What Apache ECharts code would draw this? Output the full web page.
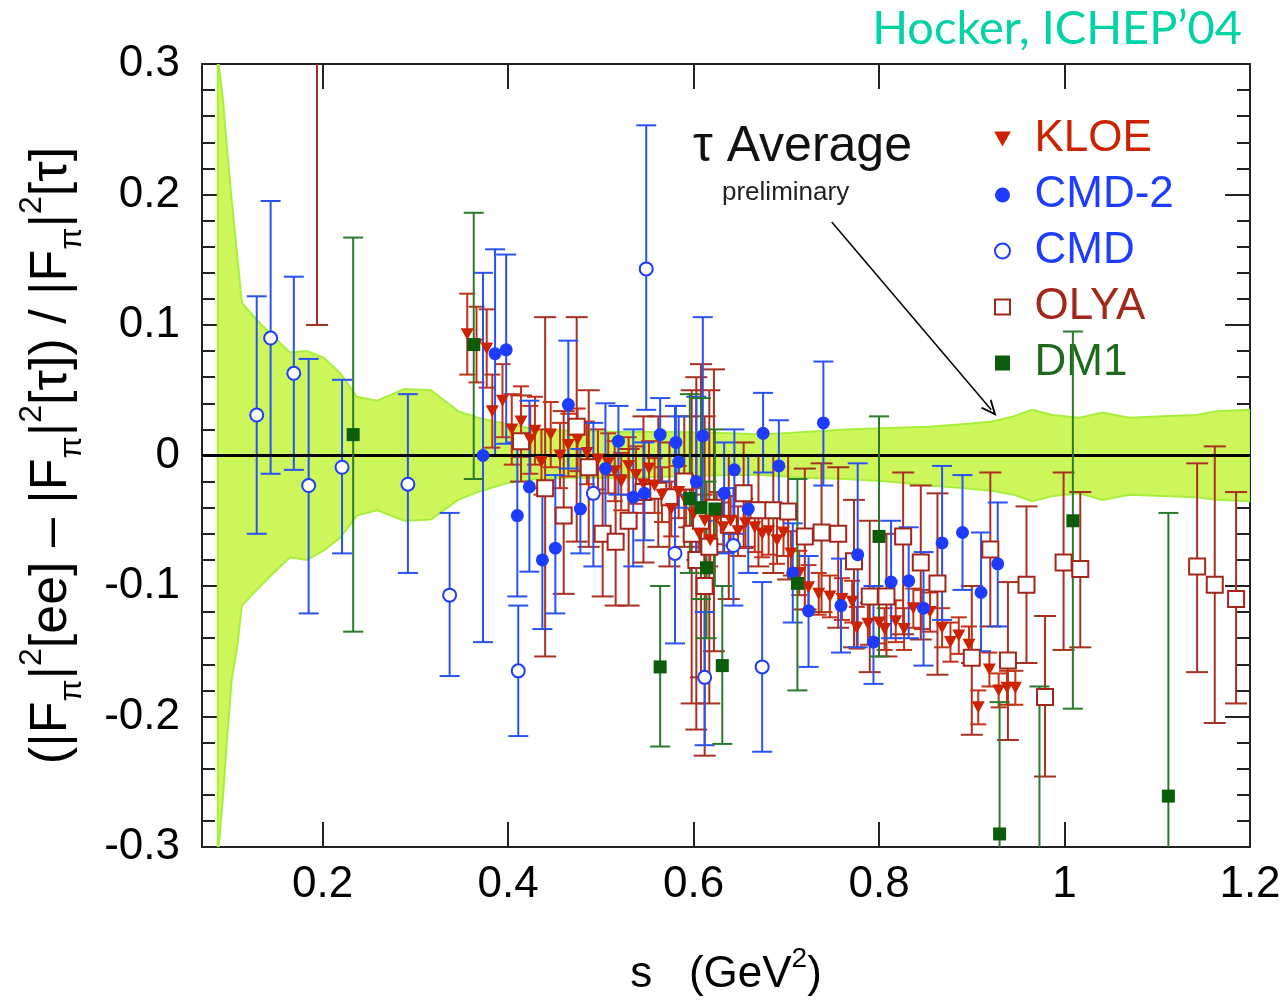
<!DOCTYPE html>
<html><head><meta charset="utf-8">
<script src="https://cdn.jsdelivr.net/npm/echarts@6/dist/echarts.min.js"></script>
<style>html,body{margin:0;padding:0;background:#fff}#c{width:1287px;height:1005px}</style>
</head><body><div id="c"></div>
<script>
// ---------------- data ----------------
var xMajorTicks = [0.2, 0.4, 0.6, 0.8, 1.0, 1.2];
var xMinorTicks = [0.1, 0.15, 0.25, 0.3, 0.35, 0.45, 0.5, 0.55, 0.65, 0.7, 0.75, 0.85, 0.9, 0.95, 1.05, 1.1, 1.15];
var xTickLabels = ['0.2', '0.4', '0.6', '0.8', '1', '1.2'];

// tau average band (upper / lower edge)
var bandX  = [0.087,0.088,0.093,0.097,0.102,0.108,0.113,0.129,0.147,0.165,0.183,0.201,0.219,0.237,0.259,0.288,0.317,0.346,0.367,0.400,0.432,0.470,0.520,0.580,0.640,0.674,0.720,0.764,0.810,0.854,0.890,0.922,0.945,0.965,0.987,1.016,1.041,1.070,1.106,1.142,1.164,1.200];
var bandUp = [0.32,0.30,0.270,0.234,0.196,0.153,0.117,0.104,0.091,0.079,0.080,0.075,0.063,0.045,0.042,0.051,0.050,0.034,0.029,0.024,0.020,0.019,0.018,0.018,0.017,0.016,0.018,0.020,0.021,0.022,0.024,0.026,0.030,0.035,0.031,0.029,0.033,0.029,0.030,0.031,0.034,0.035];
var bandLo = [-0.32,-0.30,-0.258,-0.217,-0.172,-0.146,-0.115,-0.103,-0.090,-0.078,-0.080,-0.073,-0.063,-0.046,-0.042,-0.050,-0.049,-0.034,-0.028,-0.021,-0.018,-0.017,-0.017,-0.016,-0.015,-0.015,-0.017,-0.018,-0.020,-0.023,-0.025,-0.027,-0.030,-0.035,-0.031,-0.029,-0.034,-0.030,-0.031,-0.032,-0.034,-0.035];

// KLOE
var kloeS = [0.356,0.366,0.377,0.383,0.394,0.404,0.414,0.424,0.429,0.436,0.446,0.456,0.465,0.475,0.485,0.497,0.508,0.515,0.522,0.530,0.538,0.546,0.552,0.558,0.566,0.576,0.584,0.592,0.600,0.606,0.612,0.618,0.625,0.632,0.640,0.648,0.656,0.666,0.674,0.681,0.690,0.697,0.705,0.714,0.724,0.735,0.747,0.760,0.771,0.776,0.788,0.800,0.806,0.818,0.827,0.837,0.846,0.855,0.868,0.877,0.886,0.897,0.907,0.919,0.929,0.938,0.947];
var kloeY = [0.093,0.085,0.082,0.034,0.042,0.020,0.026,0.012,0.019,-0.005,0.016,0.000,0.008,0.012,0.002,-0.003,-0.006,-0.012,-0.020,-0.008,-0.015,-0.022,-0.010,-0.023,-0.030,-0.041,-0.028,-0.035,-0.045,-0.060,-0.050,-0.065,-0.048,-0.055,-0.050,-0.058,-0.052,-0.055,-0.060,-0.058,-0.065,-0.059,-0.075,-0.090,-0.101,-0.106,-0.108,-0.110,-0.112,-0.132,-0.129,-0.128,-0.133,-0.127,-0.133,-0.117,-0.118,-0.120,-0.132,-0.143,-0.138,-0.145,-0.193,-0.164,-0.180,-0.178,-0.178];
var kloeErr = [0.031,0.029,0.030,0.028,0.028,0.027,0.027,0.026,0.026,0.025,0.025,0.025,0.024,0.024,0.024,0.023,0.023,0.023,0.022,0.022,0.022,0.022,0.021,0.021,0.021,0.021,0.020,0.020,0.020,0.020,0.020,0.020,0.020,0.019,0.019,0.019,0.019,0.019,0.018,0.018,0.018,0.018,0.017,0.017,0.017,0.016,0.016,0.016,0.016,0.016,0.016,0.016,0.016,0.016,0.016,0.015,0.015,0.015,0.015,0.015,0.014,0.014,0.013,0.013,0.013,0.013,0.013];

// OLYA
var olyaS  = [0.194,0.414,0.440,0.460,0.474,0.487,0.502,0.516,0.530,0.546,0.562,0.574,0.590,0.598,0.603,0.608,0.612,0.617,0.622,0.638,0.654,0.670,0.686,0.702,0.720,0.738,0.756,0.773,0.790,0.808,0.826,0.845,0.863,0.900,0.920,0.939,0.959,0.979,0.999,1.017,1.143,1.162,1.185];
var olyaY  = [0.36,0.011,-0.025,-0.046,0.022,-0.009,-0.060,-0.066,-0.050,-0.028,-0.027,-0.032,-0.020,-0.06,-0.08,-0.05,-0.10,-0.07,-0.04,-0.053,-0.029,-0.042,-0.042,-0.043,-0.062,-0.059,-0.060,-0.081,-0.108,-0.108,-0.062,-0.082,-0.098,-0.155,-0.072,-0.157,-0.099,-0.185,-0.082,-0.087,-0.085,-0.099,-0.110];
var olyaLo = [0.100,-0.02,-0.154,-0.106,-0.066,-0.07,-0.108,-0.115,-0.115,-0.082,-0.07,-0.085,-0.07,-0.19,-0.21,-0.17,-0.23,-0.19,-0.15,-0.11,-0.07,-0.085,-0.09,-0.095,-0.118,-0.12,-0.132,-0.147,-0.166,-0.154,-0.137,-0.141,-0.168,-0.214,-0.131,-0.218,-0.159,-0.246,-0.149,-0.147,-0.166,-0.205,-0.190];
var olyaHi = [0.62,0.046,0.106,0.034,0.106,0.05,-0.01,-0.015,0.005,0.03,0.03,0.01,0.03,0.05,0.06,0.07,0.03,0.05,0.066,0.0,0.01,0.0,0.0,0.0,-0.01,-0.006,-0.009,-0.034,-0.050,-0.06,-0.013,-0.023,-0.029,-0.10,-0.013,-0.097,-0.039,-0.123,-0.013,-0.028,-0.006,0.007,-0.028];

// CMD-2
var cmd2S  = [0.373,0.386,0.398,0.410,0.423,0.437,0.451,0.465,0.478,0.505,0.519,0.535,0.547,0.564,0.581,0.584,0.603,0.610,0.633,0.644,0.659,0.675,0.692,0.707,0.724,0.740,0.759,0.777,0.794,0.813,0.832,0.848,0.868,0.890,0.910,0.928];
var cmd2Y  = [0.000,0.078,0.081,-0.046,-0.024,-0.080,-0.071,0.039,-0.041,-0.010,0.011,-0.032,-0.029,0.016,0.010,-0.005,-0.020,0.015,-0.029,-0.011,-0.041,0.017,-0.008,-0.090,-0.119,0.025,-0.115,-0.076,-0.143,-0.097,-0.096,-0.117,-0.067,-0.059,-0.105,-0.083];
var cmd2Lo = [-0.143,0.000,0.009,-0.108,-0.089,-0.133,-0.121,-0.010,-0.075,-0.060,-0.030,-0.085,-0.065,-0.020,-0.030,-0.040,-0.080,-0.050,-0.075,-0.060,-0.090,-0.013,-0.040,-0.128,-0.162,-0.023,-0.151,-0.147,-0.175,-0.140,-0.140,-0.161,-0.126,-0.103,-0.150,-0.131];
var cmd2Hi = [0.140,0.158,0.154,0.010,0.042,-0.025,-0.015,0.088,0.005,0.040,0.038,0.020,0.010,0.044,0.038,0.030,0.045,0.106,0.010,0.020,0.000,0.048,0.027,-0.052,-0.077,0.072,-0.079,-0.006,-0.100,-0.050,-0.055,-0.074,-0.008,-0.015,-0.059,-0.036];

// CMD
var cmdS  = [0.129,0.144,0.169,0.185,0.221,0.292,0.337,0.411,0.492,0.549,0.580,0.612,0.643,0.674];
var cmdY  = [0.031,0.090,0.063,-0.023,-0.009,-0.022,-0.107,-0.165,-0.029,0.143,-0.075,-0.170,-0.069,-0.162];
var cmdLo = [-0.060,-0.014,-0.011,-0.121,-0.075,-0.090,-0.169,-0.215,-0.085,0.035,-0.144,-0.222,-0.115,-0.227];
var cmdHi = [0.122,0.195,0.137,0.074,0.058,0.047,-0.044,-0.115,0.025,0.253,0.038,-0.120,-0.025,-0.097];

// DM1
var dm1S  = [0.233,0.363,0.564,0.596,0.608,0.614,0.623,0.631,0.712,0.800,0.930,0.973,1.009,1.112];
var dm1Y  = [0.016,0.085,-0.162,-0.033,-0.040,-0.086,-0.041,-0.161,-0.098,-0.062,-0.290,-0.330,-0.050,-0.261];
var dm1Lo = [-0.135,-0.018,-0.223,-0.090,-0.110,-0.140,-0.100,-0.221,-0.180,-0.154,-0.380,-0.450,-0.194,-0.400];
var dm1Hi = [0.167,0.186,-0.100,0.047,0.044,-0.020,0.020,-0.100,-0.018,0.030,-0.189,-0.177,0.095,-0.044];

// ---------------- helpers ----------------
var FONT = "'Liberation Sans', Arial, Helvetica, sans-serif";
function rows(s, y, lo, hi) {
  var out = [];
  for (var i = 0; i < s.length; i++) out.push([s[i], y[i], lo[i], hi[i]]);
  return out;
}
var kloeLo = [], kloeHi = [];
for (var i = 0; i < kloeS.length; i++) { kloeLo.push(kloeY[i] - kloeErr[i]); kloeHi.push(kloeY[i] + kloeErr[i]); }

var kloeData = rows(kloeS, kloeY, kloeLo, kloeHi);
var olyaData = rows(olyaS, olyaY, olyaLo, olyaHi);
var cmd2Data = rows(cmd2S, cmd2Y, cmd2Lo, cmd2Hi);
var cmdData  = rows(cmdS, cmdY, cmdLo, cmdHi);
var dm1Data  = rows(dm1S, dm1Y, dm1Lo, dm1Hi);

function errSeries(id, data, color, cap, z) {
  return {
    type: 'custom', id: id, name: id, clip: true, silent: true, z: z,
    data: data, encode: { x: 0, y: [2, 3] },
    renderItem: function (params, api) {
      var x = api.value(0);
      var a = api.coord([x, api.value(2)]);
      var b = api.coord([x, api.value(3)]);
      var st = { stroke: color, lineWidth: 2, fill: null };
      return { type: 'group', children: [
        { type: 'line', shape: { x1: a[0], y1: a[1], x2: b[0], y2: b[1] }, style: st },
        { type: 'line', shape: { x1: a[0] - cap, y1: a[1], x2: a[0] + cap, y2: a[1] }, style: st },
        { type: 'line', shape: { x1: b[0] - cap, y1: b[1], x2: b[0] + cap, y2: b[1] }, style: st }
      ] };
    }
  };
}
var TRI_DOWN = 'path://M0,0L10,0L5,9Z';
var SQUARE = 'path://M0,0L10,0L10,10L0,10Z';

var chart = echarts.init(document.getElementById('c'), null, { renderer: 'canvas' });
var xBase = { type: 'value', min: 0.07, max: 1.2, splitLine: { show: false } };
var yBase = { type: 'value', min: -0.3, max: 0.3, interval: 0.1, splitLine: { show: false } };

var option = {
  backgroundColor: '#fff',
  animation: false,
  title: {
    text: 'Hocker, ICHEP\u201904', right: 40, top: 0,
    textStyle: { color: '#00d3a4', fontSize: 47, fontWeight: 'normal', fontFamily: "Lato, 'Open Sans', sans-serif" }
  },
  grid: { left: 202, right: 37, top: 64, bottom: 158, containLabel: false, outerBoundsMode: 'none' },
  legend: {
    orient: 'vertical', left: 989, top: 112, itemGap: 12, itemWidth: 54, itemHeight: 15,
    selectedMode: false,
    textStyle: { fontSize: 44, lineHeight: 44, fontFamily: FONT },
    data: [
      { name: 'KLOE', icon: TRI_DOWN, textStyle: { color: '#cc2200' } },
      { name: 'CMD-2', textStyle: { color: '#1d3cff' } },
      { name: 'CMD', textStyle: { color: '#1d3cff' } },
      { name: 'OLYA', icon: SQUARE, textStyle: { color: '#a3261a' } },
      { name: 'DM1', icon: SQUARE, textStyle: { color: '#1d6a1d' } }
    ]
  },
  xAxis: [
    Object.assign({}, xBase, {
      position: 'bottom',
      name: '{t|s   (GeV}{p|2}{t|)}', nameLocation: 'middle', nameGap: 98,
      nameTextStyle: { rich: {
        t: { fontSize: 44, fontFamily: FONT, color: '#000', lineHeight: 60 },
        p: { fontSize: 28, fontFamily: FONT, color: '#000', verticalAlign: 'top', lineHeight: 30 }
      } },
      axisLine: { show: true, onZero: false, lineStyle: { color: '#222', width: 2 } },
      axisTick: { show: true, inside: true, length: 25, customValues: xMajorTicks, lineStyle: { color: '#222', width: 2 } },
      axisLabel: { show: true, customValues: xMajorTicks, margin: 16, fontSize: 44, color: '#000', fontFamily: FONT,
        formatter: function (v) { var i = xMajorTicks.indexOf(Math.round(v * 100) / 100); return i >= 0 ? xTickLabels[i] : ''; } }
    }),
    Object.assign({}, xBase, {
      position: 'bottom', axisLine: { show: false },
      axisTick: { show: true, inside: true, length: 13, customValues: xMinorTicks, lineStyle: { color: '#222', width: 2 } },
      axisLabel: { show: false }
    }),
    Object.assign({}, xBase, {
      position: 'top',
      axisLine: { show: true, onZero: false, lineStyle: { color: '#222', width: 2 } },
      axisTick: { show: true, inside: true, length: 25, customValues: xMajorTicks, lineStyle: { color: '#222', width: 2 } },
      axisLabel: { show: false }
    }),
    Object.assign({}, xBase, {
      position: 'top', axisLine: { show: false },
      axisTick: { show: true, inside: true, length: 13, customValues: xMinorTicks, lineStyle: { color: '#222', width: 2 } },
      axisLabel: { show: false }
    })
  ],
  yAxis: [
    Object.assign({}, yBase, {
      position: 'left',
      name: '{a|(|F}{b|\u03c0}{a||}{c|2}{a|[ee] \u2013 |F}{b|\u03c0}{a||}{c|2}{a|[\u03c4]) / |F}{b|\u03c0}{a||}{c|2}{a|[\u03c4]}',
      nameLocation: 'middle', nameGap: 114, nameRotate: 90,
      nameTextStyle: { rich: {
        a: { fontSize: 52, fontFamily: FONT, color: '#000', lineHeight: 72 },
        b: { fontSize: 32, fontFamily: FONT, color: '#000', verticalAlign: 'bottom', lineHeight: 34 },
        c: { fontSize: 32, fontFamily: FONT, color: '#000', verticalAlign: 'top', lineHeight: 34 }
      } },
      axisLine: { show: true, onZero: false, lineStyle: { color: '#222', width: 2 } },
      axisTick: { show: true, inside: true, length: 25, lineStyle: { color: '#222', width: 2 } },
      minorTick: { show: true, splitNumber: 5, length: 13, lineStyle: { color: '#222', width: 2 } },
      axisLabel: { show: true, margin: 22, fontSize: 44, color: '#000', fontFamily: FONT,
        formatter: function (v) { return String(Math.round(v * 10) / 10); } }
    }),
    Object.assign({}, yBase, {
      position: 'right',
      axisLine: { show: true, onZero: false, lineStyle: { color: '#222', width: 2 } },
      axisTick: { show: true, inside: true, length: 25, lineStyle: { color: '#222', width: 2 } },
      minorTick: { show: true, splitNumber: 5, length: 13, lineStyle: { color: '#222', width: 2 } },
      axisLabel: { show: false }
    })
  ],
  graphic: [
    { type: 'text', left: 693, top: 122, style: { text: '\u03c4 Average', fontSize: 50, fontFamily: FONT, fill: '#111' } },
    { type: 'text', left: 722, top: 180, style: { text: 'preliminary', fontSize: 26, fontFamily: FONT, fill: '#222' } }
  ],
  series: [
    {
      type: 'custom', id: 'band', name: 'band', clip: true, silent: true, z: 1,
      data: [[bandX[0], bandUp[0]]], encode: { x: 0, y: 1 },
      renderItem: function (params, api) {
        var pts = [], i;
        for (i = 0; i < bandX.length; i++) pts.push(api.coord([bandX[i], bandUp[i]]));
        for (i = bandX.length - 1; i >= 0; i--) pts.push(api.coord([bandX[i], bandLo[i]]));
        return { type: 'polygon', shape: { points: pts }, style: { fill: '#ccf65a', stroke: '#a8ef3c', lineWidth: 2 } };
      },
      markLine: {
        silent: true, symbol: ['none', 'none'], label: { show: false }, animation: false,
        data: [
          { yAxis: 0, lineStyle: { color: '#000', width: 3, type: 'solid' } },
          [
            { coord: [0.749, 0.179], symbol: 'none', lineStyle: { color: '#000', width: 1.5, type: 'solid' } },
            { coord: [0.921, 0.035], symbol: 'path://M5,0L10,12L8.6,12L5,3.4L1.4,12L0,12Z', symbolSize: [14, 16] }
          ]
        ]
      }
    },
    errSeries('olyaErr', olyaData, '#a83020', 11, 3),
    errSeries('kloeErr', kloeData, '#c23218', 8, 3),
    errSeries('cmd2Err', cmd2Data, '#2853f2', 10, 4),
    errSeries('cmdErr', cmdData, '#2853f2', 10, 4),
    errSeries('dm1Err', dm1Data, '#2b7a2b', 10, 5),
    { type: 'scatter', name: 'OLYA', data: olyaData, encode: { x: 0, y: 1 }, z: 6, clip: true,
      symbol: 'rect', symbolSize: 16, itemStyle: { color: '#fff', borderColor: '#a3261a', borderWidth: 2, opacity: 1 } },
    { type: 'scatter', name: 'KLOE', data: kloeData, encode: { x: 0, y: 1 }, z: 6, clip: true,
      symbol: TRI_DOWN, symbolSize: [13, 12], itemStyle: { color: '#cc2200', opacity: 1 } },
    { type: 'scatter', name: 'CMD-2', data: cmd2Data, encode: { x: 0, y: 1 }, z: 7, clip: true,
      symbol: 'circle', symbolSize: 13, itemStyle: { color: '#1d3cff', opacity: 1 } },
    { type: 'scatter', name: 'CMD', data: cmdData, encode: { x: 0, y: 1 }, z: 7, clip: true,
      symbol: 'circle', symbolSize: 13, itemStyle: { color: '#fff', borderColor: '#1d3cff', borderWidth: 2, opacity: 1 } },
    { type: 'scatter', name: 'DM1', data: dm1Data, encode: { x: 0, y: 1 }, z: 8, clip: true,
      symbol: 'rect', symbolSize: 13, itemStyle: { color: '#0b5c0b', opacity: 1 } }
  ]
};
chart.setOption(option);
</script></body></html>
